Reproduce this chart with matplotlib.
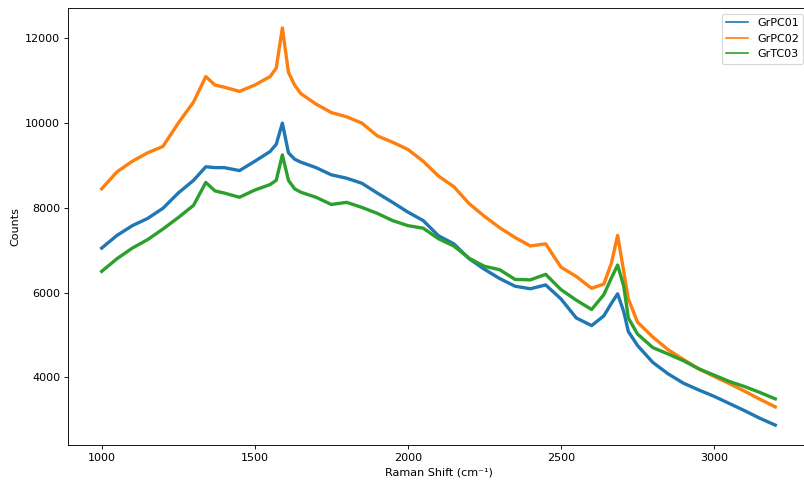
import matplotlib
matplotlib.use("Agg")
import matplotlib.pyplot as plt
from matplotlib.lines import Line2D

raman_shift = [1000, 1050, 1100, 1150, 1200, 1250, 1300, 1340, 1370, 1400, 1450, 1500,
               1550, 1570, 1590, 1610, 1630, 1650, 1700, 1750, 1800, 1850, 1900, 1950,
               2000, 2050, 2100, 2150, 2200, 2250, 2300, 2350, 2400, 2450, 2500, 2550,
               2600, 2640, 2665, 2685, 2705, 2720, 2750, 2800, 2850, 2900, 2950, 3000,
               3050, 3100, 3150, 3200]

grpc01 = [7050, 7350, 7580, 7750, 7990, 8350, 8650, 8970, 8950, 8950, 8880, 9100,
          9330, 9500, 10000, 9300, 9150, 9080, 8950, 8780, 8700, 8580, 8350, 8130,
          7900, 7700, 7340, 7150, 6800, 6550, 6330, 6150, 6090, 6180, 5850, 5400,
          5220, 5450, 5750, 5970, 5550, 5080, 4750, 4350, 4080, 3860, 3700, 3550,
          3380, 3210, 3030, 2870]

grpc02 = [8450, 8850, 9100, 9300, 9450, 10000, 10500, 11100, 10900, 10850, 10750, 10900,
          11100, 11300, 12250, 11200, 10900, 10700, 10450, 10250, 10150, 10000, 9700, 9550,
          9380, 9100, 8750, 8500, 8100, 7800, 7530, 7300, 7100, 7150, 6600, 6380,
          6100, 6200, 6700, 7350, 6500, 5850, 5300, 4950, 4650, 4420, 4200, 4020,
          3850, 3670, 3480, 3300]

grtc03 = [6500, 6800, 7050, 7250, 7500, 7770, 8060, 8600, 8400, 8350, 8250, 8420,
          8550, 8650, 9250, 8650, 8450, 8370, 8250, 8080, 8130, 8010, 7870, 7700,
          7580, 7520, 7270, 7100, 6810, 6620, 6540, 6310, 6300, 6430, 6070, 5820,
          5600, 5950, 6350, 6650, 6150, 5400, 5020, 4700, 4550, 4390, 4200, 4050,
          3900, 3780, 3640, 3490]

series_names = ["GrPC01", "GrPC02", "GrTC03"]
colors = ["#1f77b4", "#ff7f0e", "#2ca02c"]

fig = plt.figure(figsize=(804 / 80, 482 / 80), dpi=80)
ax = fig.add_axes([0.0846, 0.0768, 0.9216, 0.9066])

for name, vals, c in zip(series_names, [grpc01, grpc02, grtc03], colors):
    ax.plot(raman_shift, vals, color=c, lw=3.0, label=name)

handles = [Line2D([0], [0], color=c, lw=1.5) for c in colors]
ax.legend(handles, series_names, loc="upper right")
ax.set_xlabel("Raman Shift (cm\u207b\u00b9)")
ax.set_ylabel("Counts")
ax.set_xticks([1000, 1500, 2000, 2500, 3000])
ax.set_yticks([4000, 6000, 8000, 10000, 12000])

fig.savefig("out.png", dpi=80)
